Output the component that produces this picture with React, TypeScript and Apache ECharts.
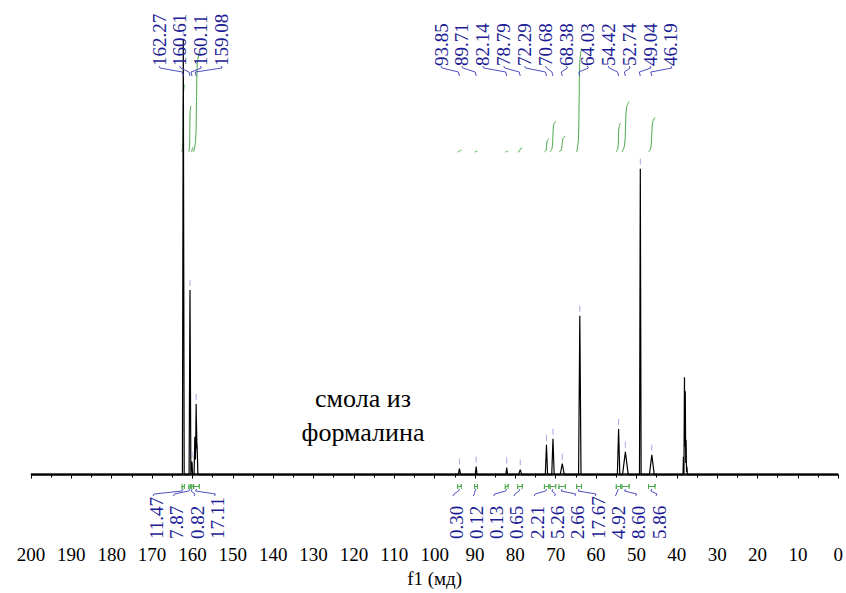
import React, { useEffect, useRef } from "react";
import * as echarts from "echarts";

// Spectrum peaks (ppm, height in arbitrary intensity units, half width at base in ppm)
const peakPpm = [162.27, 160.61, 160.11, 159.4, 159.08, 158.85, 93.85, 89.71, 82.14, 78.79, 72.29, 70.68, 68.38, 64.03, 54.42, 52.74, 49.04, 46.19, 38.35, 38.1, 37.9, 37.7, 37.5];
const peakHeight = [438, 186, 13, 38, 71, 30, 6, 8, 7, 5, 30, 36, 11, 160, 46, 23, 308, 20, 18, 98, 84, 35, 8];
const peakWidth = [0.22, 0.22, 0.15, 0.2, 0.2, 0.2, 0.3, 0.22, 0.22, 0.4, 0.28, 0.3, 0.5, 0.3, 0.3, 0.7, 0.2, 0.6, 0.12, 0.12, 0.12, 0.12, 0.12];

// Peak labels (top)
const leftPeakLabels = [162.27, 160.61, 160.11, 159.08];
const rightPeakLabels = [93.85, 89.71, 82.14, 78.79, 72.29, 70.68, 68.38, 64.03, 54.42, 52.74, 49.04, 46.19];

// Integrals
const leftIntegrals = [11.47, 7.87, 0.82, 17.11];
const leftIntFrom = [162.6, 160.9, 160.35, 159.7];
const leftIntTo = [162.0, 160.4, 159.8, 158.3];
const rightIntegrals = [0.3, 0.12, 0.13, 0.65, 2.21, 5.26, 2.66, 17.67, 4.92, 8.6, 5.86];
const rightIntFrom = [94.3, 90.1, 82.5, 79.4, 72.8, 71.4, 69.2, 64.8, 55.0, 53.6, 47.0];
const rightIntTo = [93.4, 89.4, 81.8, 78.3, 71.7, 70.0, 67.6, 63.6, 53.9, 51.8, 45.4];

const xTicks = { min: 0, max: 200, interval: 10 };
const axisName = "f1 (мд)";
const sampleName = "смола из\nформалина";

const SERIF = "'Liberation Serif', 'Times New Roman', Times, serif";
const BLUE_TEXT = "#1c1c94";
const BLUE_LINE = "#5050c0";
const BLUE_MARK = "#9090dc";
const GREEN = "#48a848";

function spectrumAt(x: number): number {
  let s = 0;
  for (let i = 0; i < peakPpm.length; i++) {
    const d = Math.abs(x - peakPpm[i]);
    if (d < peakWidth[i]) s += peakHeight[i] * (1 - d / peakWidth[i]);
  }
  return s;
}

function buildSpectrum(): number[][] {
  const xs = new Set<number>([xTicks.max, xTicks.min]);
  peakPpm.forEach((p, i) => {
    xs.add(+(p - peakWidth[i]).toFixed(4));
    xs.add(p);
    xs.add(+(p + peakWidth[i]).toFixed(4));
  });
  return Array.from(xs)
    .sort((a, b) => b - a)
    .map((x) => [x, spectrumAt(x)]);
}

export default function App() {
  const ref = useRef<HTMLDivElement>(null);
  useEffect(() => {
    if (!ref.current) return;
    const chart = echarts.init(ref.current, null, { renderer: "svg" });

    const allIntegrals = [...leftIntegrals, ...rightIntegrals];
    const allFrom = [...leftIntFrom, ...rightIntFrom];
    const allTo = [...leftIntTo, ...rightIntTo];
    const allLabels = [...leftPeakLabels, ...rightPeakLabels];

    const integralSeries = allIntegrals.map((v, i) => {
      const f = allFrom[i];
      const t = allTo[i];
      return {
        type: "line",
        yAxisIndex: 1,
        silent: true,
        showSymbol: false,
        smooth: 0.4,
        lineStyle: { color: GREEN, width: 1 },
        data: [
          [f, 0],
          [f + (t - f) * 0.35, v * 0.12],
          [(f + t) / 2, v / 2],
          [t - (t - f) * 0.35, v * 0.88],
          [t, v],
        ],
        z: 1,
      };
    });

    const option: any = {
      animation: false,
      textStyle: { fontFamily: SERIF },
      grid: { left: 31, right: 6, top: 0, bottom: 50 },
      xAxis: {
        type: "value",
        inverse: true,
        min: xTicks.min,
        max: xTicks.max,
        interval: xTicks.interval,
        name: axisName,
        nameLocation: "middle",
        nameGap: 27,
        nameTextStyle: { fontFamily: SERIF, fontSize: 19, color: "#000" },
        axisLine: { lineStyle: { color: "#000", width: 1 } },
        axisTick: { show: true, length: 4, lineStyle: { color: "#000" } },
        minorTick: { show: true, splitNumber: 2, length: 3, lineStyle: { color: "#000" } },
        splitLine: { show: false },
        axisLabel: { fontFamily: SERIF, fontSize: 19, color: "#000", margin: 6 },
      },
      yAxis: [
        { type: "value", min: -65, max: 478, show: false },
        { type: "value", min: -390 / 5.9, max: 153 / 5.9, show: false },
      ],
      series: [
        {
          type: "line",
          silent: true,
          showSymbol: false,
          lineStyle: { color: "#1a1a1a", width: 2.6 },
          data: [
            [xTicks.max, 0],
            [xTicks.min, 0],
          ],
          z: 2,
        },
        {
          type: "line",
          silent: true,
          showSymbol: false,
          lineStyle: { color: "#000", width: 1.2 },
          data: buildSpectrum(),
          z: 3,
        },
        {
          type: "scatter",
          silent: true,
          symbol: "rect",
          symbolSize: [1, 6],
          symbolOffset: [0, -7],
          itemStyle: { color: BLUE_MARK },
          data: allLabels.map((p) => [p, spectrumAt(p)]),
          z: 4,
        },
        ...integralSeries,
      ],
    };
    chart.setOption(option);

    const px = (ppm: number) => chart.convertToPixel({ xAxisIndex: 0 }, ppm) as number;
    const graphics: any[] = [];
    const labelFont = `19px ${SERIF}`;

    // top peak labels
    const topX = [
      ...leftPeakLabels.map((_, i) => 159 + 20.7 * i),
      ...rightPeakLabels.map((_, i) => 441 + 20.9 * i),
    ];
    allLabels.forEach((p, i) => {
      const lx = topX[i];
      const pxx = px(p);
      graphics.push({
        type: "text",
        x: lx,
        y: 66,
        rotation: Math.PI / 2,
        silent: true,
        z: 10,
        style: {
          text: p.toFixed(2),
          font: labelFont,
          fill: BLUE_TEXT,
          textAlign: "left",
          textVerticalAlign: "middle",
        },
      });
      graphics.push({
        type: "polyline",
        silent: true,
        z: 10,
        shape: { points: [[lx, 66], [lx + 1, 68], [pxx - 1, 72], [pxx, 76]] },
        style: { stroke: BLUE_LINE, fill: null, lineWidth: 1 },
      });
    });

    // bottom integral labels
    const botX = [
      ...leftIntegrals.map((_, i) => 156 + 20.5 * i),
      ...rightIntegrals.map((_, i) => 456 + 20.3 * i),
    ];
    allIntegrals.forEach((v, i) => {
      const lx = botX[i];
      const a = px(allFrom[i]);
      const b = px(allTo[i]);
      const c = (a + b) / 2;
      graphics.push({
        type: "text",
        x: lx,
        y: 539,
        rotation: Math.PI / 2,
        silent: true,
        z: 10,
        style: {
          text: v.toFixed(2),
          font: labelFont,
          fill: BLUE_TEXT,
          textAlign: "left",
          textVerticalAlign: "middle",
        },
      });
      graphics.push({
        type: "polyline",
        silent: true,
        z: 10,
        shape: { points: [[lx - 3, 496], [lx - 2, 494], [c - 1, 491], [c, 489]] },
        style: { stroke: BLUE_LINE, fill: null, lineWidth: 1 },
      });
      graphics.push({
        type: "polyline",
        silent: true,
        z: 10,
        shape: { points: [[a, 484], [a, 489], [a, 486.5], [b, 486.5], [b, 484], [b, 489]] },
        style: { stroke: GREEN, fill: null, lineWidth: 1 },
      });
    });

    graphics.push({
      type: "text",
      x: 363,
      y: 415,
      silent: true,
      style: {
        text: sampleName,
        font: `26px ${SERIF}`,
        fill: "#000",
        textAlign: "center",
        textVerticalAlign: "middle",
        lineHeight: 34,
      },
    });

    chart.setOption({ graphic: graphics });

    return () => chart.dispose();
  }, []);

  return (
    <div
      ref={ref}
      style={{ position: "absolute", left: 0, top: 0, width: 846, height: 593, background: "#fff" }}
    />
  );
}
